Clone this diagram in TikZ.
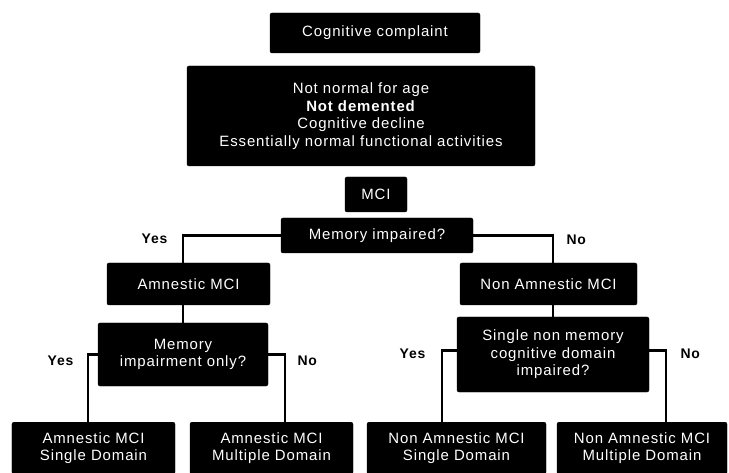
\documentclass[tikz,border=0pt]{standalone}
\usepackage{fontspec}
\setmainfont{Liberation Sans}[LetterSpace=6]

\begin{document}
\begin{tikzpicture}[x=1bp, y=-1bp,
    box/.style={draw=black, fill=black, text=white, rounded corners=2bp, inner sep=0pt, align=center, font=\fontsize{15}{17.5}\selectfont},
    yesno/.style={font=\fontsize{14}{16}\selectfont\bfseries},
    link/.style={line width=2.5bp}]
            \useasboundingbox (0,0) rectangle (729,473);
            \clip (0,0) rectangle (729,473);

            % Top of the chart
            \node[box, minimum width=210bp, minimum height=40bp] (complaint) at (375,33) {Cognitive complaint};
            \node[box, minimum width=348bp, minimum height=100bp] (criteria) at (361,116) {Not normal for age\\\textbf{Not demented}\\Cognitive decline\\Essentially normal functional activities};
            \node[box, minimum width=62bp, minimum height=35bp] (mci) at (376,194.5) {MCI};
            \node[box, minimum width=192bp, minimum height=35bp] (memimp) at (377,235.5) {Memory impaired?};

            % Amnestic side
            \node[box, minimum width=163bp, minimum height=42bp] (amn) at (188.5,284) {Amnestic MCI};
            \node[box, minimum width=170bp, minimum height=63bp] (memonly) at (183,354.5) {Memory\\impairment only?};
            \node[box, anchor=north, minimum width=163bp, minimum height=52bp] (amsingle) at (93.5,422) {Amnestic MCI\\Single Domain};
            \node[box, anchor=north, minimum width=163bp, minimum height=52bp] (ammulti) at (271.5,422) {Amnestic MCI\\Multiple Domain};

            % Non amnestic side
            \node[box, minimum width=177bp, minimum height=42bp] (nonamn) at (548.5,284) {Non Amnestic MCI};
            \node[box, minimum width=192bp, minimum height=75bp] (singlenon) at (553,354.5) {Single non memory\\cognitive domain\\impaired?};
            \node[box, anchor=north, minimum width=179bp, minimum height=52bp] (nasingle) at (456.5,422) {Non Amnestic MCI\\Single Domain};
            \node[box, anchor=north, minimum width=170bp, minimum height=52bp] (namulti) at (642,422) {Non Amnestic MCI\\Multiple Domain};

            \draw[link] (memimp.west) -| node[yesno, pos=0.5, anchor=east, xshift=-11bp, yshift=-3bp] {Yes} ([xshift=-5.5bp]amn.north);
            \draw[link] (memimp.east) -| node[yesno, pos=0.5, anchor=west, xshift=9bp, yshift=-4bp] {No} ([xshift=4.5bp]nonamn.north);
            \draw[link] (memonly.north |- amn.south) -- (memonly.north);
            \draw[link] (singlenon.north |- nonamn.south) -- (singlenon.north);
            \draw[link] (memonly.west) -| node[yesno, pos=0.5, anchor=east, xshift=-10bp, yshift=-6bp] {Yes} ([xshift=-5.5bp]amsingle.north);
            \draw[link] (memonly.east) -| node[yesno, pos=0.5, anchor=west, xshift=8bp, yshift=-6bp] {No} ([xshift=13.5bp]ammulti.north);
            \draw[link] ([yshift=4bp]singlenon.west) -| node[yesno, pos=0.5, anchor=east, xshift=-12bp, yshift=-3bp] {Yes} ([xshift=-14.5bp]nasingle.north);
            \draw[link] ([yshift=4bp]singlenon.east) -| node[yesno, pos=0.5, anchor=west, xshift=10bp, yshift=-3bp] {No} ([xshift=24bp]namulti.north);
        \end{tikzpicture}
\end{document}
